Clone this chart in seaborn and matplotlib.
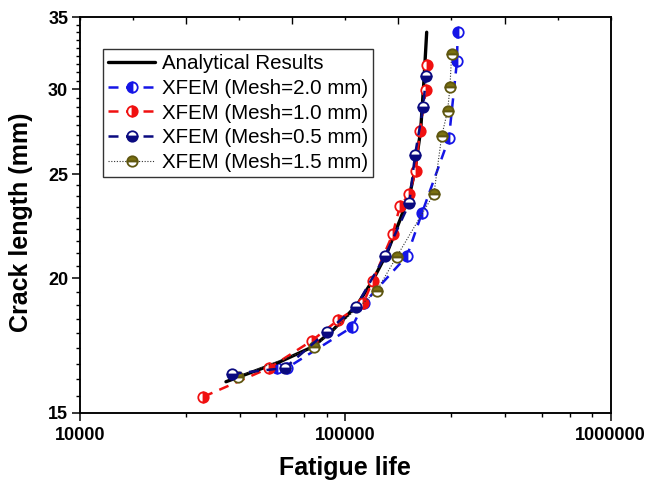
import numpy as np
import pandas as pd
import seaborn as sns
import matplotlib.pyplot as plt
from matplotlib.ticker import FixedLocator, FuncFormatter, MultipleLocator, NullFormatter

# values (fatigue life in cycles, crack length in mm)
analytical_life = [35500, 56700, 75500, 89850, 110600, 127100, 143500, 160700,
                   175300, 183100, 192300, 197900, 202600]
analytical_crack = [16.03, 16.73, 17.28, 17.91, 18.89, 19.93, 21.12, 22.67,
                    24.02, 25.23, 27.49, 30.6, 33.9]

mesh20_life = [55260, 60260, 105900, 117600, 170800, 194500, 245800, 263500, 265100]
mesh20_crack = [16.51, 16.51, 18.02, 18.97, 20.99, 23.01, 27.02, 31.86, 33.93]

mesh10_life = [29150, 51700, 74690, 94090, 116900, 126800, 150800, 160700,
               174200, 184100, 191100, 201300, 203700]
mesh10_crack = [15.52, 16.51, 17.50, 18.30, 18.96, 19.90, 21.99, 23.36,
                23.95, 25.20, 27.45, 29.96, 31.59]

mesh05_life = [37300, 59220, 85050, 109700, 141100, 174200, 183000, 196700, 201300]
mesh05_crack = [16.30, 16.51, 17.84, 18.82, 20.99, 23.49, 26.04, 28.91, 30.86]

mesh15_life = [39300, 76380, 131300, 156200, 215800, 230700, 243000, 247900, 251600]
mesh15_crack = [16.20, 17.26, 19.48, 20.96, 23.98, 27.13, 28.66, 30.13, 32.38]

labels = ["Analytical Results", "XFEM (Mesh=2.0 mm)", "XFEM (Mesh=1.0 mm)",
          "XFEM (Mesh=0.5 mm)", "XFEM (Mesh=1.5 mm)"]
y_major = [15, 20, 25, 30, 35]
x_major = [1e4, 1e5, 1e6]

sns.set_style("ticks")
plt.rcParams["font.family"] = ["Liberation Sans", "DejaVu Sans"]
plt.rcParams["text.color"] = "black"
plt.rcParams["axes.labelcolor"] = "black"
plt.rcParams["xtick.color"] = "black"
plt.rcParams["ytick.color"] = "black"

fig = plt.figure(figsize=(6.46, 4.83), dpi=100)
ax = fig.add_axes([0.1238, 0.1455, 0.8215, 0.8186])
ax.set_xscale("log")
ax.set_yscale("log")


def draw(life, crack, **kw):
    df = pd.DataFrame({"life": life, "crack": crack})
    sns.lineplot(data=df, x="life", y="crack", sort=False, estimator=None,
                 ax=ax, **kw)


draw(analytical_life, analytical_crack, color="black", lw=2.4,
     label=labels[0], zorder=3)

half = dict(marker="o", markersize=7.5, markeredgewidth=1.3,
            markerfacecoloralt="white")
draw(mesh20_life, mesh20_crack, color="#1515E6", lw=1.8, linestyle=(0, (4, 3)),
     fillstyle="left", markerfacecolor="#1515E6", markeredgecolor="#1515E6",
     label=labels[1], zorder=2, **half)
draw(mesh10_life, mesh10_crack, color="#F01010", lw=1.8, linestyle=(0, (4, 3)),
     fillstyle="right", markerfacecolor="#F01010", markeredgecolor="#F01010",
     label=labels[2], zorder=4, **half)
draw(mesh05_life, mesh05_crack, color="#0A0A80", lw=1.8, linestyle=(0, (4, 3)),
     fillstyle="bottom", markerfacecolor="#0A0A80", markeredgecolor="#0A0A80",
     label=labels[3], zorder=5, **half)
draw(mesh15_life, mesh15_crack, color="#333333", lw=0.8, linestyle=(0, (1, 1.5)),
     fillstyle="top", markerfacecolor="#7A7010", markeredgecolor="#5E5610",
     label=labels[4], zorder=4, **half)

ax.set_xlim(1e4, 1e6)
ax.set_ylim(15, 35)

ax.xaxis.set_major_locator(FixedLocator(x_major))
ax.xaxis.set_major_formatter(FuncFormatter(lambda v, p: f"{v:.0f}"))
x_minor = list(np.arange(2.5e4, 1e5, 1.5e4)) + list(np.arange(2.5e5, 1e6, 1.5e5))
ax.xaxis.set_minor_locator(FixedLocator(x_minor))
ax.xaxis.set_minor_formatter(NullFormatter())

ax.yaxis.set_major_locator(FixedLocator(y_major))
ax.yaxis.set_major_formatter(FuncFormatter(lambda v, p: f"{v:.0f}"))
ax.yaxis.set_minor_locator(MultipleLocator(5 / 9))
ax.yaxis.set_minor_formatter(NullFormatter())

ax.tick_params(axis="both", which="major", direction="out", length=5.5,
               width=1.1, labelsize=13, color="black", labelcolor="black", pad=3)
ax.tick_params(axis="both", which="minor", direction="out", length=3,
               width=1.0, color="black")
ax.tick_params(axis="x", which="major", pad=5)
for t in ax.get_xticklabels() + ax.get_yticklabels():
    t.set_fontweight("bold")

for s in ax.spines.values():
    s.set_linewidth(1.1)
    s.set_color("black")

# unlabeled linear tick row along the top edge
ax_top = ax.twiny()
ax_top.set_xlim(0, 1)
ax_top.xaxis.set_major_locator(FixedLocator([0.2, 0.4, 0.6, 0.8]))
ax_top.xaxis.set_minor_locator(MultipleLocator(0.1))
ax_top.tick_params(axis="x", which="major", direction="in", length=5,
                   width=1.0, labeltop=False, color="black")
ax_top.tick_params(axis="x", which="minor", direction="in", length=2.5,
                   width=1.0, color="black")
for s in ax_top.spines.values():
    s.set_linewidth(1.1)
    s.set_color("black")

ax.set_xlabel("Fatigue life", fontsize=18, fontweight="bold", color="black")
ax.set_ylabel("Crack length (mm)", fontsize=18, fontweight="bold", color="black")
ax.xaxis.set_label_coords(0.5, -0.11)
ax.yaxis.set_label_coords(-0.089, 0.483)

handles, _ = ax.get_legend_handles_labels()
leg = ax.legend(handles=handles, labels=labels, loc="upper left",
                bbox_to_anchor=(0.0433, 0.92), borderaxespad=0, fontsize=14.8,
                handlelength=2.3, handletextpad=0.3, labelspacing=0.28,
                borderpad=0.25, numpoints=1, fancybox=False, framealpha=1,
                edgecolor="#333333")
leg.get_frame().set_linewidth(1.0)
leg.set_zorder(10)

fig.savefig("out.png", dpi=100)
